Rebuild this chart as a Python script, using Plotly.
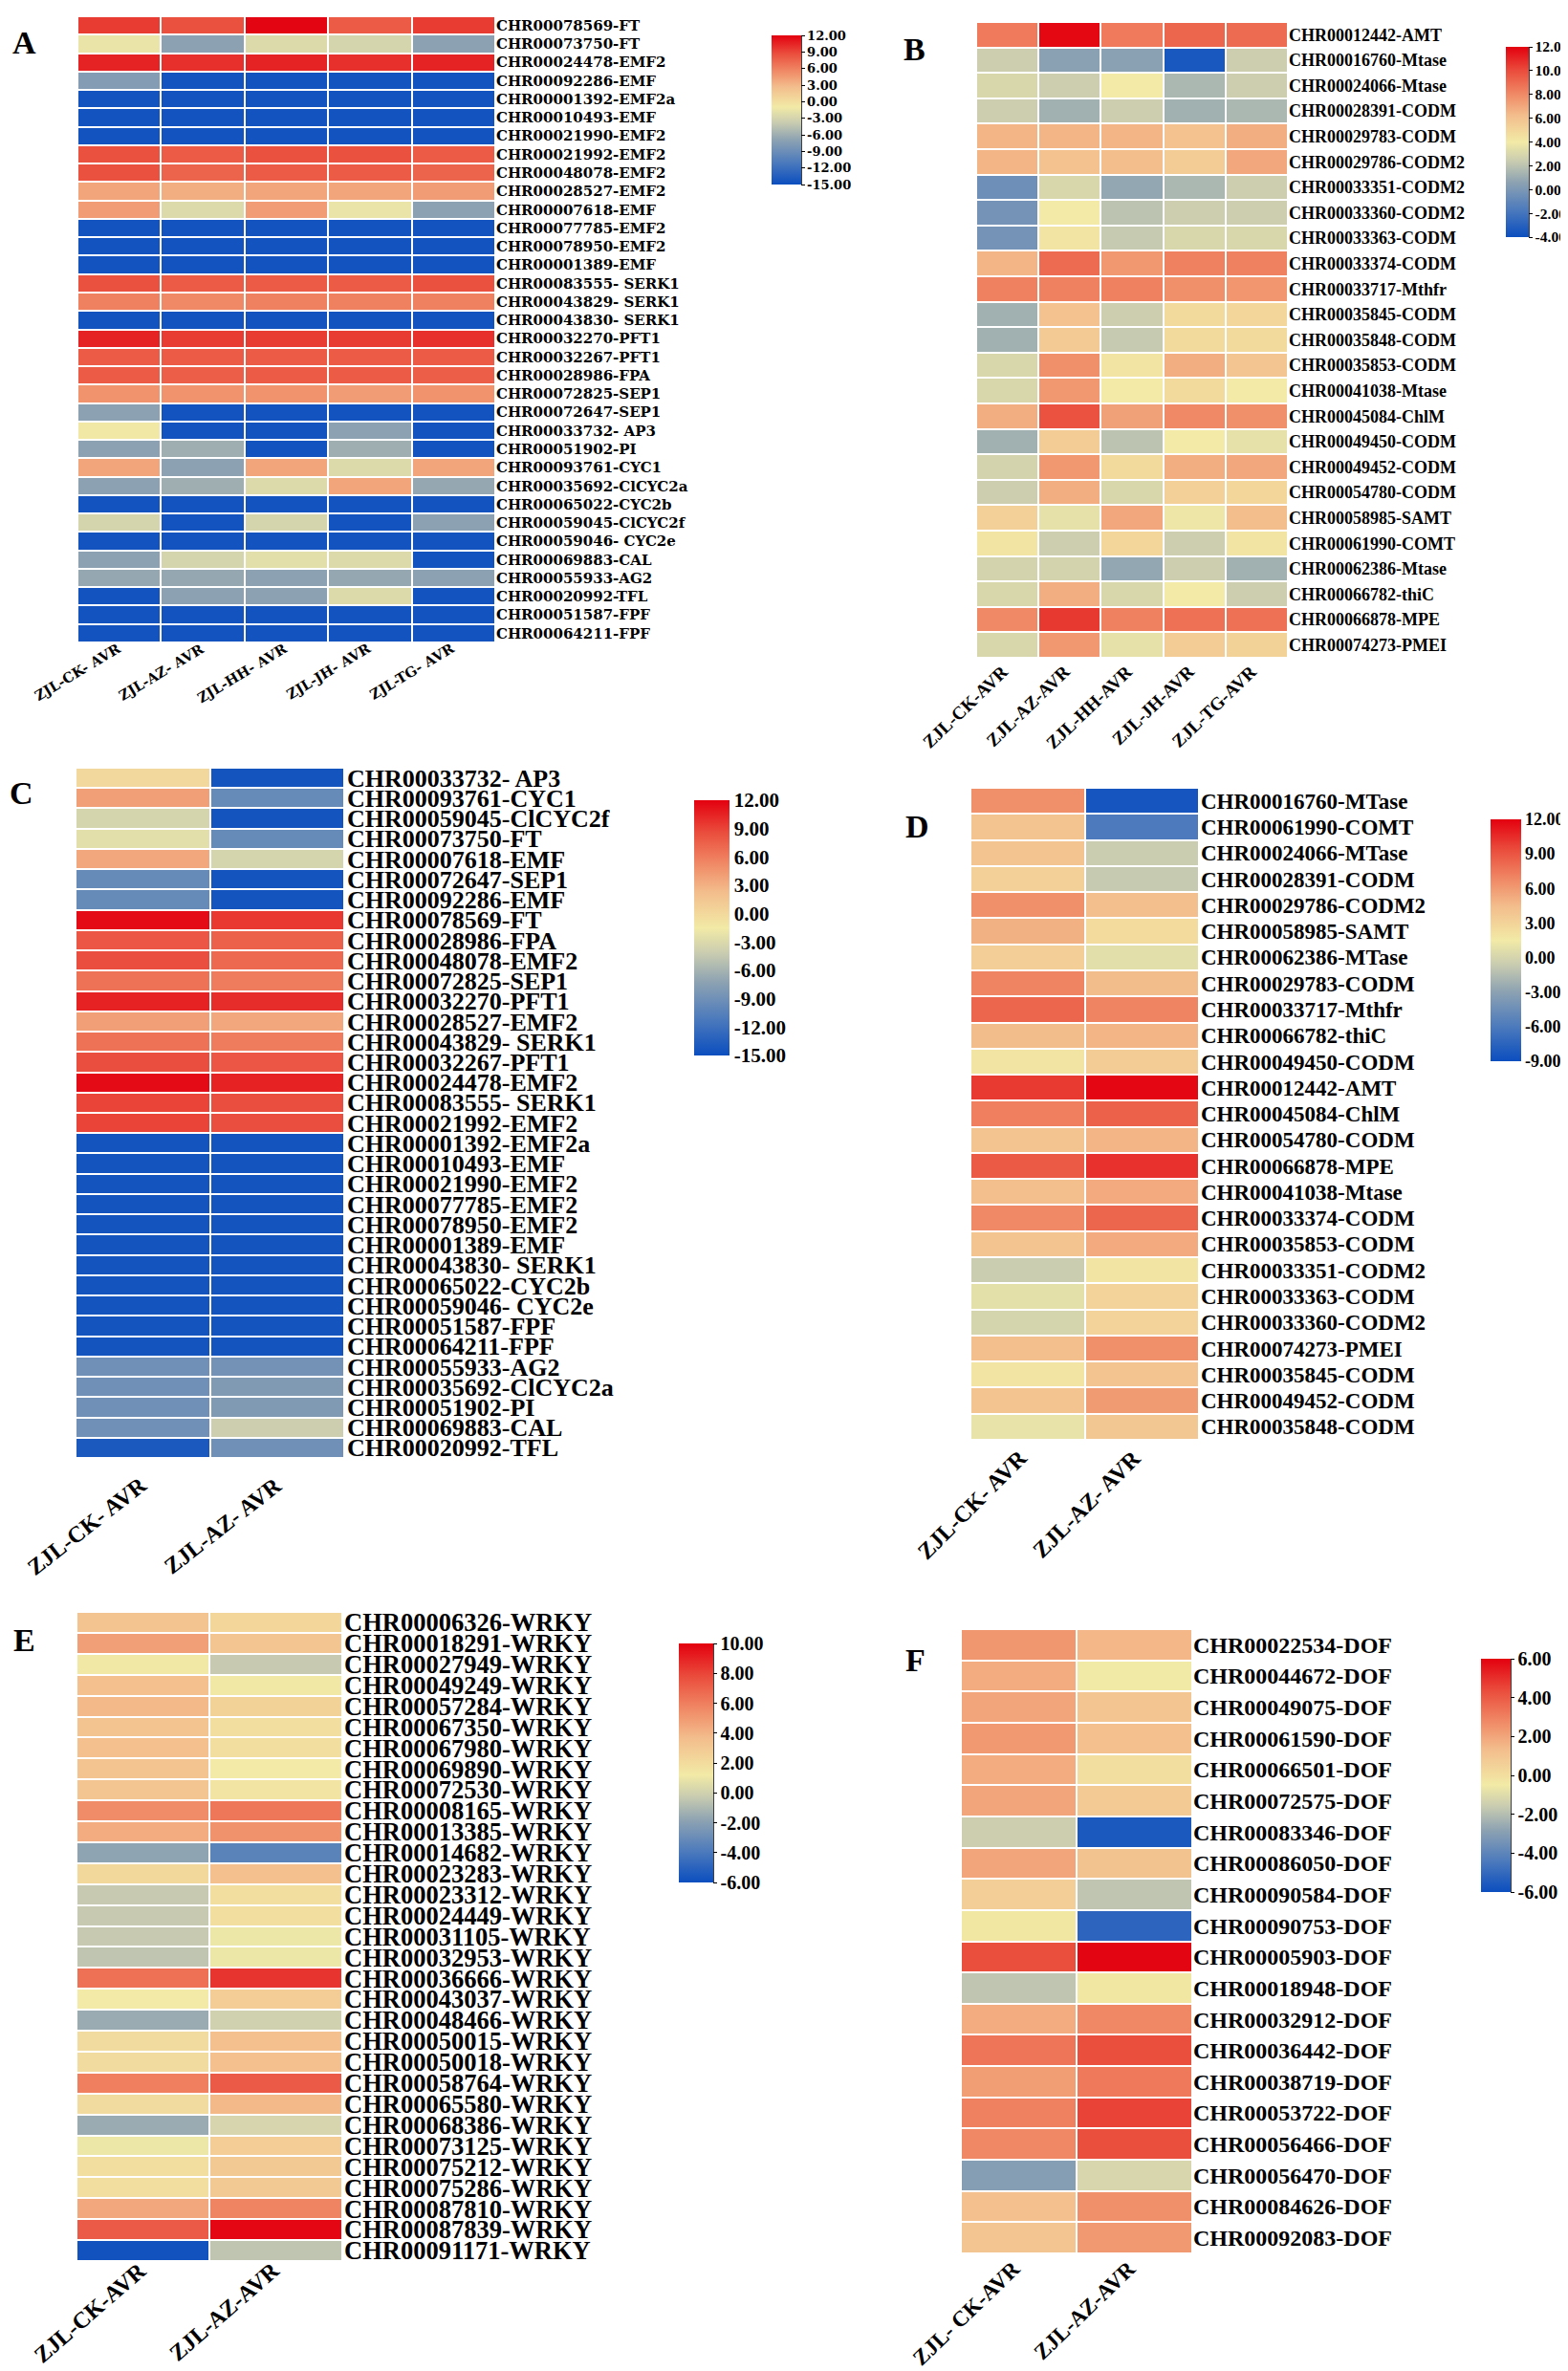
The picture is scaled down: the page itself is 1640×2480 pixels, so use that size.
import plotly.graph_objects as go

W, H = 1640, 2480

# ---------------- Panel A ----------------
A_cols = ["ZJL-CK- AVR", "ZJL-AZ- AVR", "ZJL-HH- AVR", "ZJL-JH- AVR", "ZJL-TG- AVR"]
A_rows = ["CHR00078569-FT", "CHR00073750-FT", "CHR00024478-EMF2", "CHR00092286-EMF",
          "CHR00001392-EMF2a", "CHR00010493-EMF", "CHR00021990-EMF2", "CHR00021992-EMF2",
          "CHR00048078-EMF2", "CHR00028527-EMF2", "CHR00007618-EMF", "CHR00077785-EMF2",
          "CHR00078950-EMF2", "CHR00001389-EMF", "CHR00083555- SERK1", "CHR00043829- SERK1",
          "CHR00043830- SERK1", "CHR00032270-PFT1", "CHR00032267-PFT1", "CHR00028986-FPA",
          "CHR00072825-SEP1", "CHR00072647-SEP1", "CHR00033732- AP3", "CHR00051902-PI",
          "CHR00093761-CYC1", "CHR00035692-ClCYC2a", "CHR00065022-CYC2b", "CHR00059045-ClCYC2f",
          "CHR00059046- CYC2e", "CHR00069883-CAL", "CHR00055933-AG2", "CHR00020992-TFL",
          "CHR00051587-FPF", "CHR00064211-FPF"]
A_vals = [
    [9.5, 8.5, 11.8, 8.0, 9.5],
    [-1.5, -7.0, -2.5, -3.0, -7.0],
    [10.5, 10.0, 10.5, 10.0, 10.5],
    [-7.5, -14.5, -14.5, -14.5, -14.5],
    [-14.5, -14.5, -14.5, -14.5, -14.5],
    [-14.5, -14.5, -14.5, -14.5, -14.5],
    [-14.5, -14.5, -14.5, -14.5, -14.5],
    [8.5, 8.0, 8.5, 8.5, 8.0],
    [8.5, 7.5, 8.0, 8.0, 7.5],
    [4.0, 3.5, 4.0, 4.0, 4.5],
    [4.5, -2.5, 4.5, -1.5, -7.0],
    [-14.5, -14.5, -14.5, -14.5, -14.5],
    [-14.5, -14.5, -14.5, -14.5, -14.5],
    [-14.5, -14.5, -14.5, -14.5, -14.5],
    [8.5, 8.0, 8.0, 8.0, 8.5],
    [6.0, 5.5, 6.0, 6.0, 6.0],
    [-14.5, -14.5, -14.5, -14.5, -14.5],
    [10.5, 9.5, 9.5, 9.5, 10.0],
    [8.0, 8.0, 8.0, 8.0, 8.0],
    [8.0, 7.8, 8.0, 8.0, 7.8],
    [5.0, 5.0, 5.0, 4.5, 5.0],
    [-7.0, -14.5, -14.5, -14.5, -14.5],
    [-0.8, -14.5, -14.5, -7.0, -14.5],
    [-7.0, -6.0, -14.5, -6.0, -14.5],
    [4.0, -7.0, 4.0, -2.5, 4.0],
    [-7.0, -6.0, -2.5, 4.0, -6.5],
    [-14.5, -14.5, -14.5, -14.5, -14.5],
    [-3.0, -14.5, -3.0, -14.5, -7.0],
    [-14.5, -14.5, -14.5, -14.5, -14.5],
    [-7.0, -3.0, -2.0, -2.5, -14.5],
    [-6.5, -6.5, -7.0, -6.5, -7.0],
    [-14.5, -7.0, -7.0, -2.5, -14.5],
    [-14.5, -14.5, -14.5, -14.5, -14.5],
    [-14.5, -14.5, -14.5, -14.5, -14.5],
]
A_ticks = [12, 9, 6, 3, 0, -3, -6, -9, -12, -15]

# ---------------- Panel B ----------------
B_cols = ["ZJL-CK-AVR", "ZJL-AZ-AVR", "ZJL-HH-AVR", "ZJL-JH-AVR", "ZJL-TG-AVR"]
B_rows = ["CHR00012442-AMT", "CHR00016760-Mtase", "CHR00024066-Mtase", "CHR00028391-CODM",
          "CHR00029783-CODM", "CHR00029786-CODM2", "CHR00033351-CODM2", "CHR00033360-CODM2",
          "CHR00033363-CODM", "CHR00033374-CODM", "CHR00033717-Mthfr", "CHR00035845-CODM",
          "CHR00035848-CODM", "CHR00035853-CODM", "CHR00041038-Mtase", "CHR00045084-ChlM",
          "CHR00049450-CODM", "CHR00049452-CODM", "CHR00054780-CODM", "CHR00058985-SAMT",
          "CHR00061990-COMT", "CHR00062386-Mtase", "CHR00066782-thiC", "CHR00066878-MPE",
          "CHR00074273-PMEI"]
B_vals = [
    [8.5, 11.8, 8.5, 9.2, 9.0],
    [2.5, 0.5, 0.5, -3.5, 2.5],
    [3.0, 2.5, 4.0, 1.5, 2.5],
    [2.5, 1.2, 2.5, 1.2, 1.5],
    [6.5, 6.5, 6.5, 6.0, 6.8],
    [6.5, 6.0, 6.2, 5.5, 7.0],
    [-0.5, 3.0, 0.8, 1.5, 2.5],
    [-0.3, 4.0, 2.0, 2.5, 2.5],
    [-0.3, 4.3, 2.3, 3.0, 3.0],
    [6.5, 9.0, 7.5, 8.3, 8.3],
    [8.3, 8.3, 8.3, 7.8, 7.6],
    [1.2, 6.0, 2.5, 4.8, 5.0],
    [1.2, 5.6, 2.3, 4.8, 4.8],
    [3.0, 7.8, 4.3, 6.8, 5.8],
    [3.0, 7.5, 4.0, 4.8, 4.0],
    [6.8, 9.8, 7.2, 8.0, 7.8],
    [1.2, 5.5, 2.0, 4.0, 3.5],
    [2.8, 7.5, 4.8, 6.8, 7.0],
    [2.5, 6.8, 3.0, 5.3, 5.0],
    [5.3, 3.5, 7.0, 3.8, 6.2],
    [4.3, 2.5, 5.0, 2.5, 4.3],
    [2.8, 2.8, 0.8, 2.5, 1.2],
    [3.0, 6.8, 3.0, 4.0, 2.5],
    [8.0, 10.5, 8.3, 8.8, 8.8],
    [3.0, 7.5, 3.5, 5.5, 5.2],
]
B_ticks = [12, 10, 8, 6, 4, 2, 0, -2, -4]

# ---------------- Panel C ----------------
C_cols = ["ZJL-CK- AVR", "ZJL-AZ- AVR"]
C_rows = ["CHR00033732- AP3", "CHR00093761-CYC1", "CHR00059045-ClCYC2f", "CHR00073750-FT",
          "CHR00007618-EMF", "CHR00072647-SEP1", "CHR00092286-EMF", "CHR00078569-FT",
          "CHR00028986-FPA", "CHR00048078-EMF2", "CHR00072825-SEP1", "CHR00032270-PFT1",
          "CHR00028527-EMF2", "CHR00043829- SERK1", "CHR00032267-PFT1", "CHR00024478-EMF2",
          "CHR00083555- SERK1", "CHR00021992-EMF2", "CHR00001392-EMF2a", "CHR00010493-EMF",
          "CHR00021990-EMF2", "CHR00077785-EMF2", "CHR00078950-EMF2", "CHR00001389-EMF",
          "CHR00043830- SERK1", "CHR00065022-CYC2b", "CHR00059046- CYC2e", "CHR00051587-FPF",
          "CHR00064211-FPF", "CHR00055933-AG2", "CHR00035692-ClCYC2a", "CHR00051902-PI",
          "CHR00069883-CAL", "CHR00020992-TFL"]
C_vals = [
    [0.0, -14.5], [4.0, -9.5], [-3.5, -14.5], [-2.5, -9.5], [3.5, -3.5],
    [-9.5, -14.5], [-9.5, -14.5], [11.5, 9.5], [8.0, 7.5], [8.5, 7.0],
    [6.5, 6.0], [10.5, 10.0], [4.0, 3.5], [6.5, 6.0], [8.5, 8.0],
    [11.5, 10.5], [9.0, 8.5], [9.0, 8.5], [-14.5, -14.5], [-14.5, -14.5],
    [-14.5, -14.5], [-14.5, -14.5], [-14.5, -14.5], [-14.5, -14.5], [-14.5, -14.5],
    [-14.5, -14.5], [-14.5, -14.5], [-14.5, -14.5], [-14.5, -14.5], [-9.0, -8.8],
    [-9.0, -8.0], [-9.0, -8.0], [-9.0, -4.0], [-14.0, -9.0],
]
C_ticks = [12, 9, 6, 3, 0, -3, -6, -9, -12, -15]

# ---------------- Panel D ----------------
D_cols = ["ZJL-CK- AVR", "ZJL-AZ- AVR"]
D_rows = ["CHR00016760-MTase", "CHR00061990-COMT", "CHR00024066-MTase", "CHR00028391-CODM",
          "CHR00029786-CODM2", "CHR00058985-SAMT", "CHR00062386-MTase", "CHR00029783-CODM",
          "CHR00033717-Mthfr", "CHR00066782-thiC", "CHR00049450-CODM", "CHR00012442-AMT",
          "CHR00045084-ChlM", "CHR00054780-CODM", "CHR00066878-MPE", "CHR00041038-Mtase",
          "CHR00033374-CODM", "CHR00035853-CODM", "CHR00033351-CODM2", "CHR00033363-CODM",
          "CHR00033360-CODM2", "CHR00074273-PMEI", "CHR00035845-CODM", "CHR00049452-CODM",
          "CHR00035848-CODM"]
D_vals = [
    [6.5, -8.5], [4.0, -6.0], [4.0, -0.5], [3.2, -0.7], [6.5, 4.3],
    [5.0, 2.5], [3.3, 0.7], [7.0, 4.5], [8.3, 7.0], [4.5, 4.8],
    [1.8, 3.5], [10.0, 11.8], [7.2, 8.5], [4.0, 4.8], [8.8, 10.3],
    [4.3, 5.3], [6.8, 8.3], [4.0, 5.3], [-0.5, 1.8], [0.8, 3.0],
    [0.0, 3.0], [4.3, 6.5], [1.8, 4.0], [4.0, 6.0], [1.0, 3.8],
]
D_ticks = [12, 9, 6, 3, 0, -3, -6, -9]

# ---------------- Panel E ----------------
E_cols = ["ZJL-CK-AVR", "ZJL-AZ-AVR"]
E_rows = ["CHR00006326-WRKY", "CHR00018291-WRKY", "CHR00027949-WRKY", "CHR00049249-WRKY",
          "CHR00057284-WRKY", "CHR00067350-WRKY", "CHR00067980-WRKY", "CHR00069890-WRKY",
          "CHR00072530-WRKY", "CHR00008165-WRKY", "CHR00013385-WRKY", "CHR00014682-WRKY",
          "CHR00023283-WRKY", "CHR00023312-WRKY", "CHR00024449-WRKY", "CHR00031105-WRKY",
          "CHR00032953-WRKY", "CHR00036666-WRKY", "CHR00043037-WRKY", "CHR00048466-WRKY",
          "CHR00050015-WRKY", "CHR00050018-WRKY", "CHR00058764-WRKY", "CHR00065580-WRKY",
          "CHR00068386-WRKY", "CHR00073125-WRKY", "CHR00075212-WRKY", "CHR00075286-WRKY",
          "CHR00087810-WRKY", "CHR00087839-WRKY", "CHR00091171-WRKY"]
E_vals = [
    [3.3, 2.3], [4.8, 3.2], [1.3, -0.3], [3.5, 1.3], [3.8, 2.5],
    [3.3, 1.8], [3.5, 1.8], [3.3, 1.2], [3.2, 1.5], [5.5, 6.3],
    [4.3, 5.3], [-1.8, -3.5], [2.2, 3.5], [-0.3, 1.8], [-0.3, 1.8],
    [-0.3, 1.0], [-0.5, 1.0], [6.5, 8.5], [1.2, 2.8], [-1.5, 0.0],
    [2.0, 3.5], [2.0, 3.5], [6.0, 7.3], [2.0, 3.8], [-1.5, 0.2],
    [1.0, 2.8], [1.8, 3.0], [1.8, 3.0], [4.5, 5.8], [7.3, 9.8],
    [-5.8, -0.5],
]
E_ticks = [10, 8, 6, 4, 2, 0, -2, -4, -6]

# ---------------- Panel F ----------------
F_cols = ["ZJL- CK-AVR", "ZJL-AZ-AVR"]
F_rows = ["CHR00022534-DOF", "CHR00044672-DOF", "CHR00049075-DOF", "CHR00061590-DOF",
          "CHR00066501-DOF", "CHR00072575-DOF", "CHR00083346-DOF", "CHR00086050-DOF",
          "CHR00090584-DOF", "CHR00090753-DOF", "CHR00005903-DOF", "CHR00018948-DOF",
          "CHR00032912-DOF", "CHR00036442-DOF", "CHR00038719-DOF", "CHR00053722-DOF",
          "CHR00056466-DOF", "CHR00056470-DOF", "CHR00084626-DOF", "CHR00092083-DOF"]
F_vals = [
    [2.4, 1.5], [1.8, -0.5], [2.0, 1.0], [2.3, 1.2], [1.8, 0.0],
    [2.0, 0.8], [-1.5, -5.6], [2.0, 1.1], [0.6, -1.8], [-0.3, -5.2],
    [4.3, 5.9], [-1.8, -0.3], [1.8, 2.8], [3.3, 4.3], [2.2, 3.2],
    [3.0, 4.6], [2.8, 4.3], [-3.0, -1.2], [1.2, 2.6], [1.0, 2.3],
]
F_ticks = [6, 4, 2, 0, -2, -4, -6]

# ---------------- styling helpers ----------------
LOW = [(0.0, '#0b4ebf'), (0.3, '#4f7cbc'), (0.58, '#8ea3b2'), (0.8, '#c9ccb0'), (1.0, '#f2eaa6')]
HIGH = [(0.0, '#f2eaa6'), (0.28, '#f3bd8c'), (0.5, '#f08a66'), (0.75, '#ea4c3c'), (1.0, '#e3000f')]


def make_scale(m):
    s = [[t * m, c] for t, c in LOW]
    s += [[m + t * (1 - m), c] for t, c in HIGH[1:]]
    return s


def px(x):
    return x / W


def py(y):
    return 1 - y / H


fig = go.Figure()
shapes = []
annotations = []

TIMES = "Liberation Serif, Times New Roman, serif"
DEJA = "DejaVu Serif, serif"

panels = [
    dict(cols=A_cols, rows=A_rows, vals=A_vals, ticks=A_ticks, zmin=-15, zmax=12, mid=0.52,
         box=(73, 9, 510, 664), cbar=(799, 29, 31, 156), fam=DEJA, ys=15, xs=14.5, cs=13,
         angle=-31, tickmarks=True, ystand=0, xoff=(7, -6), letter="A", lpos=(17, 36)),
    dict(cols=B_cols, rows=B_rows, vals=B_vals, ticks=B_ticks, zmin=-4, zmax=12, mid=0.5,
         box=(1013, 15, 1339, 680), cbar=(1567, 41, 24, 199), fam=TIMES, ys=18, xs=19, cs=15.5,
         angle=-44, tickmarks=True, ystand=0, xoff=(7, 1), letter="B", lpos=(949, 44)),
    dict(cols=C_cols, rows=C_rows, vals=C_vals, ticks=C_ticks, zmin=-15, zmax=12, mid=0.5,
         box=(71, 795, 352, 1517), cbar=(718, 829, 37, 267), fam=TIMES, ys=26, xs=24, cs=21,
         angle=-38, tickmarks=False, ystand=2, xoff=(12, 12), letter="C", lpos=(14, 821)),
    dict(cols=D_cols, rows=D_rows, vals=D_vals, ticks=D_ticks, zmin=-9, zmax=12, mid=0.5,
         box=(1007, 816, 1246, 1498), cbar=(1551, 849, 32, 253), fam=TIMES, ys=23, xs=24, cs=18,
         angle=-45, tickmarks=False, ystand=1, xoff=(7, 3), letter="D", lpos=(952, 856)),
    dict(cols=E_cols, rows=E_rows, vals=E_vals, ticks=E_ticks, zmin=-6, zmax=10, mid=0.45,
         box=(72, 1678, 350, 2357), cbar=(702, 1711, 36, 250), fam=TIMES, ys=26.5, xs=24, cs=20,
         angle=-41, tickmarks=True, ystand=1, xoff=(11, -7), letter="E", lpos=(17, 1707)),
    dict(cols=F_cols, rows=F_rows, vals=F_vals, ticks=F_ticks, zmin=-6, zmax=6, mid=0.46,
         box=(997, 1696, 1239, 2349), cbar=(1541, 1727, 31, 244), fam=TIMES, ys=24, xs=23, cs=20,
         angle=-44, tickmarks=True, ystand=0, xoff=(9, 0), letter="F", lpos=(950, 1728)),
]

layout_axes = {}
for i, p in enumerate(panels, start=1):
    xa = "x" if i == 1 else f"x{i}"
    ya = "y" if i == 1 else f"y{i}"
    x0, y0, x1, y1 = p["box"]
    cx, cy, cth, clen = p["cbar"]
    fig.add_trace(go.Heatmap(
        z=p["vals"], x=p["cols"], y=p["rows"],
        zmin=p["zmin"], zmax=p["zmax"],
        colorscale=make_scale(p["mid"]),
        xgap=2, ygap=2, xaxis=xa, yaxis=ya,
        colorbar=dict(
            x=px(cx), xanchor="left", xref="paper", y=py(cy), yanchor="top", yref="paper",
            thickness=cth, thicknessmode="pixels", len=clen, lenmode="pixels",
            xpad=0, ypad=0, outlinewidth=0,
            tickvals=p["ticks"], ticktext=[f"{t:.2f}" for t in p["ticks"]],
            ticks="outside" if p["tickmarks"] else "", ticklen=4 if p["tickmarks"] else 0,
            tickcolor="black", tickwidth=1,
            tickfont=dict(family=p["fam"], size=p["cs"], color="black", weight="bold"),
        ),
    ))
    if p["tickmarks"]:
        # dark axis line along the right edge of the colour bar
        shapes.append(dict(type="line", xref="paper", yref="paper",
                           x0=px(cx + cth), x1=px(cx + cth), y0=py(cy), y1=py(cy + clen),
                           line=dict(color="black", width=1.5)))
    ncol = len(p["cols"])
    nrow = len(p["rows"])
    layout_axes["xaxis" if i == 1 else f"xaxis{i}"] = dict(
        domain=[px(x0), px(x1)], anchor=ya, type="category", side="bottom",
        range=[-0.5, ncol - 0.5], autorange=False,
        showticklabels=False, ticks="", showgrid=False, zeroline=False, showline=False,
        automargin=False,
    )
    layout_axes["yaxis" if i == 1 else f"yaxis{i}"] = dict(
        domain=[py(y1), py(y0)], anchor=xa, type="category", side="right",
        tickmode="array", tickvals=p["rows"], ticktext=p["rows"],
        range=[nrow - 0.5, -0.5], autorange=False,
        ticks="", showgrid=False, zeroline=False, showline=False,
        ticklabelstandoff=p["ystand"], automargin=False,
        tickfont=dict(family=p["fam"], size=p["ys"], color="black", weight="bold"),
    )
    # rotated column labels under the heatmap, anchored at each column
    dx, dy = p["xoff"]
    for c in p["cols"]:
        annotations.append(dict(
            text=c, x=c, xref=xa, y=py(y1 + dy), yref="paper",
            xanchor="right", yanchor="top", xshift=dx, textangle=p["angle"],
            showarrow=False,
            font=dict(family=p["fam"], size=p["xs"], color="black", weight="bold"),
        ))
    annotations.append(dict(
        text=p["letter"], x=px(p["lpos"][0]), y=py(p["lpos"][1]), xref="paper", yref="paper",
        xanchor="center", yanchor="middle", showarrow=False,
        font=dict(family=TIMES, size=34, color="black", weight="bold"),
    ))

fig.update_layout(
    width=W, height=H, margin=dict(l=0, r=0, t=0, b=0, autoexpand=False),
    paper_bgcolor="white", plot_bgcolor="white",
    shapes=shapes, annotations=annotations, showlegend=False,
    **layout_axes,
)

fig.write_html("out.html")
